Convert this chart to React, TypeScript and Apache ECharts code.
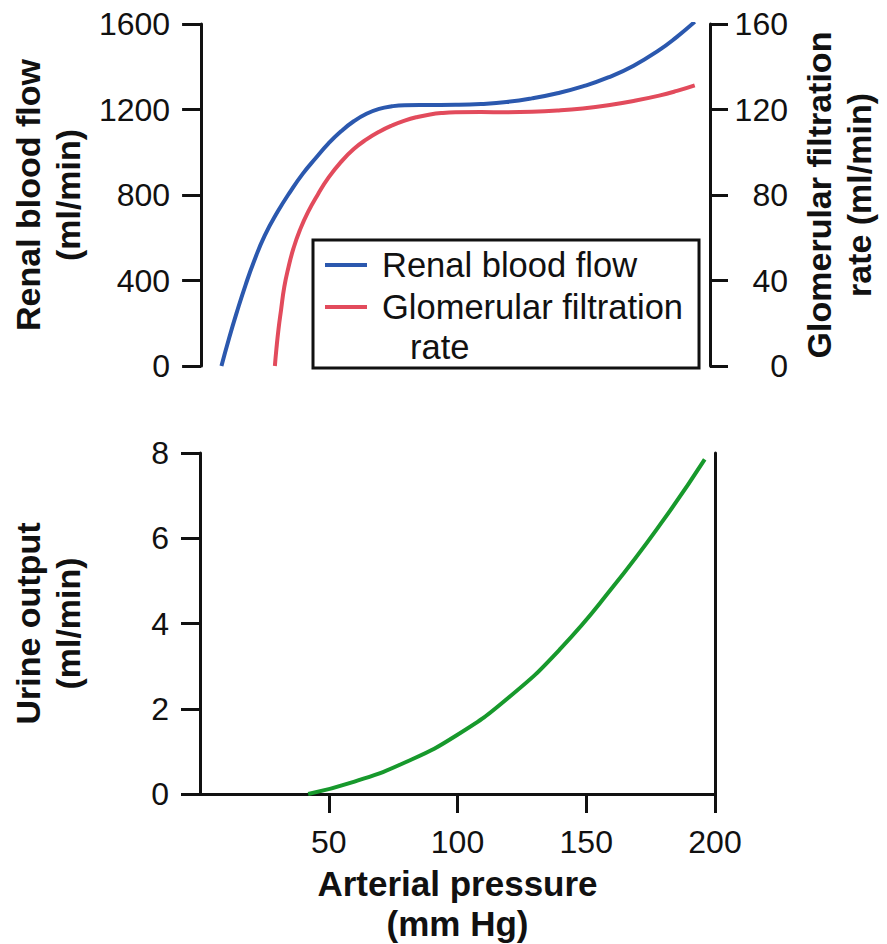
import React, { useEffect, useRef } from "react";
import * as echarts from "echarts";

// Arterial pressure (mm Hg) and readings for each curve
const RBF_PRESSURE = [8, 11, 14, 17.5, 21, 25, 30, 35, 40, 45, 50, 55, 60, 65, 70, 75, 80, 90, 100, 110, 120, 130, 140, 150, 160, 170, 180, 187, 194];
const RBF_VALUES = [0, 130, 250, 380, 496, 610, 720, 815, 900, 972, 1040, 1098, 1145, 1180, 1203, 1215, 1220, 1221, 1222, 1226, 1235, 1252, 1276, 1308, 1350, 1405, 1478, 1540, 1610];

const GFR_PRESSURE = [29, 29.6, 30.4, 31.4, 32.7, 34.3, 36.3, 38.8, 42, 46, 50, 55, 60, 65, 70, 75, 80, 85, 90, 95, 100, 110, 120, 130, 140, 150, 160, 170, 180, 187, 194];
const GFR_VALUES = [0, 8, 17, 26, 37, 46, 55, 63.5, 72, 80.5, 88, 95.5, 101.5, 106, 109.6, 112.5, 114.8, 116.5, 117.7, 118.4, 118.7, 118.8, 118.7, 118.9, 119.5, 120.5, 122, 124, 126.5, 128.7, 131.3];

const URINE_PRESSURE = [42, 60, 80, 100, 120, 140, 160, 180, 196];
const URINE_VALUES = [0, 0.29, 0.75, 1.39, 2.27, 3.41, 4.83, 6.43, 7.85];

const X_TICKS = { min: 0, max: 200, interval: 50 };
const RBF_TICKS = { min: 0, max: 1600, interval: 400 };
const GFR_TICKS = { min: 0, max: 160, interval: 40 };
const URINE_TICKS = { min: 0, max: 8, interval: 2 };

const SERIES_NAMES = ["Renal blood flow", "Glomerular filtration rate"];

const BLUE = "#2b58ae";
const RED = "#e24b5c";
const GREEN = "#17992c";
const INK = "#111111";
const FONT = "'Liberation Sans', Arial, Helvetica, sans-serif";

const pairs = (xs: number[], ys: number[]) => xs.map((x, i) => [x, ys[i]]);

export default function App() {
  const ref = useRef<HTMLDivElement>(null);

  useEffect(() => {
    document.body.style.margin = "0";
    const chart = echarts.init(ref.current!, null, { renderer: "svg" });

    const axisLine = { show: true, onZero: false, lineStyle: { color: INK, width: 3 } };
    const axisTick = (len: number) => ({ show: true, inside: false, length: len, lineStyle: { color: INK, width: 3 } });
    const tickLabel = { color: INK, fontSize: 32, fontFamily: FONT, formatter: (v: number) => String(v) };
    const titleStyle = { color: INK, fontSize: 34, fontWeight: "bold" as const, fontFamily: FONT, lineHeight: 40 };

    chart.setOption({
      animation: false,
      backgroundColor: "#ffffff",
      grid: [
        { left: 200, top: 24, width: 515, height: 342 },
        { left: 200, top: 453, width: 515, height: 341 },
      ],
      legend: {
        data: SERIES_NAMES,
        orient: "vertical",
        left: 313,
        top: 240,
        icon: "rect",
        itemWidth: 0,
        itemHeight: 0,
        itemGap: 2,
        itemStyle: { opacity: 0 },
        padding: [5, 16, 1, 7],
        borderColor: INK,
        borderWidth: 3,
        borderRadius: 0,
        selectedMode: false,
        formatter: (name: string) =>
          name === SERIES_NAMES[0]
            ? "{b| }{g| }{t|Renal blood flow}"
            : "{r| }{g| }{t|Glomerular filtration}\n{i| }{t|rate}",
        textStyle: {
          color: INK,
          fontFamily: FONT,
          fontSize: 34,
          lineHeight: 40,
          rich: {
            b: { width: 42, height: 4, backgroundColor: BLUE },
            r: { width: 42, height: 4, backgroundColor: RED },
            g: { width: 15 },
            i: { width: 85 },
            t: { fontSize: 34.5, lineHeight: 40, color: INK, fontFamily: FONT },
          },
        },
      },
      xAxis: [
        { gridIndex: 0, type: "value", ...X_TICKS, show: false },
        {
          gridIndex: 1,
          type: "value",
          ...X_TICKS,
          axisLine,
          axisTick: axisTick(19),
          splitLine: { show: false },
          axisLabel: { ...tickLabel, margin: 32, showMinLabel: false },
          name: "Arterial pressure\n(mm Hg)",
          nameLocation: "middle",
          nameGap: 69,
          nameTextStyle: { ...titleStyle, fontSize: 35 },
        },
      ],
      yAxis: [
        {
          gridIndex: 0,
          type: "value",
          position: "left",
          ...RBF_TICKS,
          axisLine,
          axisTick: axisTick(19),
          splitLine: { show: false },
          axisLabel: { ...tickLabel, margin: 31 },
          name: "Renal blood flow\n(ml/min)",
          nameLocation: "middle",
          nameRotate: 90,
          nameGap: 112,
          nameTextStyle: titleStyle,
        },
        {
          gridIndex: 0,
          type: "value",
          position: "right",
          ...GFR_TICKS,
          axisLine,
          axisTick: axisTick(18),
          splitLine: { show: false },
          axisLabel: { ...tickLabel, margin: 78, align: "right" },
          name: "Glomerular filtration\nrate (ml/min)",
          nameLocation: "middle",
          nameRotate: 90,
          nameGap: 89,
          nameTextStyle: titleStyle,
        },
        {
          gridIndex: 1,
          type: "value",
          position: "left",
          ...URINE_TICKS,
          axisLine,
          axisTick: axisTick(19),
          splitLine: { show: false },
          axisLabel: { ...tickLabel, margin: 31 },
          name: "Urine output\n(ml/min)",
          nameLocation: "middle",
          nameRotate: 90,
          nameGap: 112,
          nameTextStyle: titleStyle,
        },
        {
          gridIndex: 1,
          type: "value",
          position: "right",
          ...URINE_TICKS,
          axisLine,
          axisTick: { show: false },
          axisLabel: { show: false },
          splitLine: { show: false },
        },
      ],
      series: [
        {
          name: SERIES_NAMES[0],
          type: "line",
          xAxisIndex: 0,
          yAxisIndex: 0,
          data: pairs(RBF_PRESSURE, RBF_VALUES),
          smooth: 0.5,
          showSymbol: false,
          color: BLUE,
          lineStyle: { color: BLUE, width: 4 },
        },
        {
          name: SERIES_NAMES[1],
          type: "line",
          xAxisIndex: 0,
          yAxisIndex: 1,
          data: pairs(GFR_PRESSURE, GFR_VALUES),
          smooth: 0.5,
          showSymbol: false,
          color: RED,
          lineStyle: { color: RED, width: 4 },
        },
        {
          name: "Urine output",
          type: "line",
          xAxisIndex: 1,
          yAxisIndex: 2,
          data: pairs(URINE_PRESSURE, URINE_VALUES),
          smooth: 0.5,
          showSymbol: false,
          color: GREEN,
          lineStyle: { color: GREEN, width: 4 },
        },
      ],
    });

    return () => chart.dispose();
  }, []);

  return <div ref={ref} style={{ width: 887, height: 944 }} />;
}
